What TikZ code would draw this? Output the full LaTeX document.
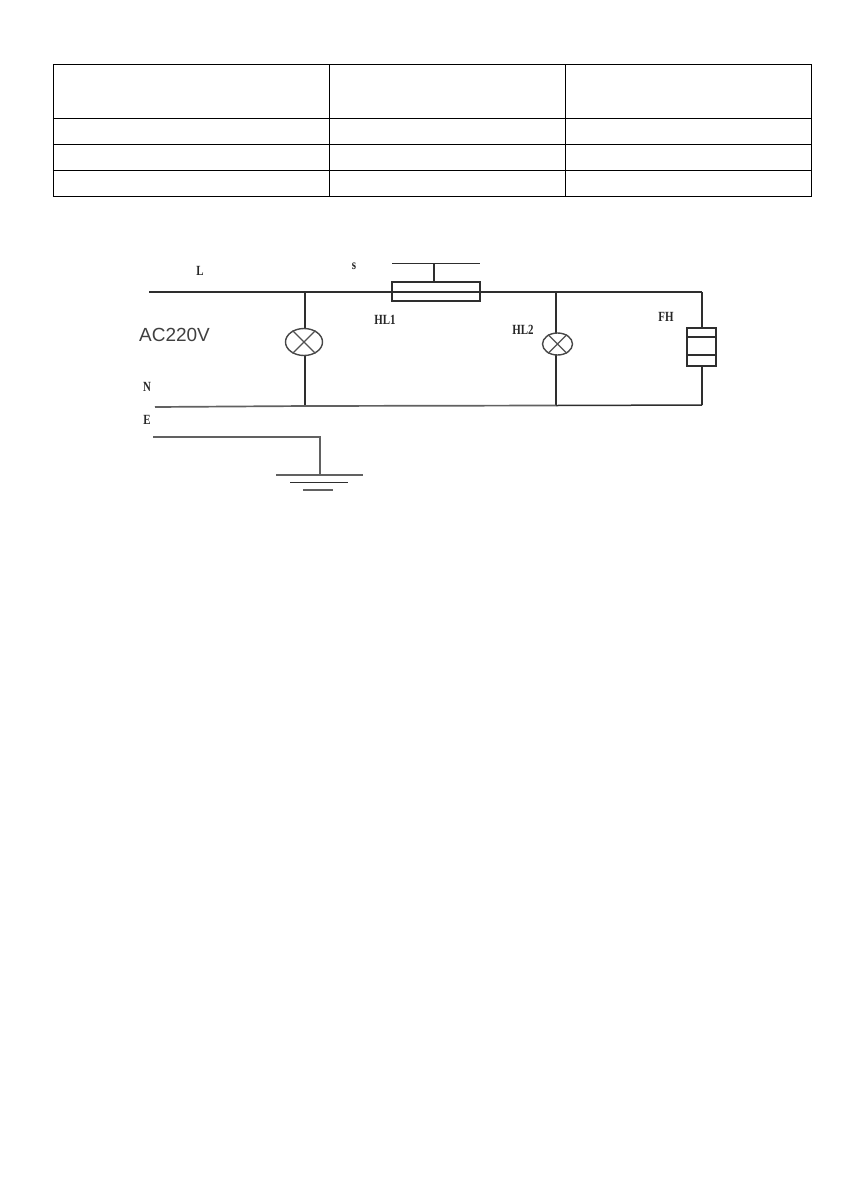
\documentclass[tikz,border=0pt]{standalone}
\usepackage{fontspec}
\setmainfont{Liberation Serif}
\newfontfamily\acfont{Liberation Sans}
\newfontfamily\lblfont[FakeStretch=0.78]{Liberation Serif}
\usetikzlibrary{shapes.geometric}
\tikzset{
  grid line/.style={line width=1.35pt,draw=black},
  wire/.style={line width=1.5pt,draw=black!82},
  gwire/.style={line width=1.7pt,draw=black!62},
  lamp/.style={ellipse,draw=black!72,line width=1.4pt,fill=white,inner sep=0pt},
  box/.style={rectangle,draw=black!82,line width=1.5pt,fill=white,inner sep=0pt},
  lbl/.style={font=\lblfont\bfseries\fontsize{14}{14}\selectfont,inner sep=0pt,text=black!85},
}
\begin{document}
\begin{tikzpicture}[x=1pt,y=-1pt]
\useasboundingbox (0,0) rectangle (843,1192);
% table
\foreach \yy in {64.5,118.5,144.5,170.5,196.5}{\draw[grid line] (52.8,\yy) -- (812.2,\yy);}
\foreach \xx in {53.5,329.5,565.5,811.5}{\draw[grid line] (\xx,64) -- (\xx,197);}
% coordinates
\coordinate (Lstart) at (149,292);
\coordinate (J1) at (305,292);
\coordinate (J2) at (556,292);
\coordinate (Rtop) at (702,292);
\coordinate (Nstart) at (155,407);
\coordinate (N1) at (305,406);
\coordinate (N2) at (556,405.5);
\coordinate (Rbot) at (702,405);
\coordinate (Estart) at (153,437);
\coordinate (Ecorner) at (320,437);
\coordinate (G) at (320,475);
\coordinate (SwL) at (392,263.5);
\coordinate (SwR) at (480,263.5);
\coordinate (SwM) at (434,263.5);
\coordinate (G1a) at (276,475); \coordinate (G1b) at (363,475);
\coordinate (G2a) at (290,482.5); \coordinate (G2b) at (348,482.5);
\coordinate (G3a) at (303,490); \coordinate (G3b) at (333,490);
% wires
\draw[wire] (Lstart) -- (Rtop);
\draw[wire] (Rtop) -- (Rbot);
\draw[wire] (J1) -- (N1);
\draw[wire] (J2) -- (N2);
\draw[wire] (N2) -- (Rbot);
\draw[gwire] (Nstart) -- (N1) -- (N2);
\draw[gwire] (Estart) -- (Ecorner) -- (G);
\draw[gwire] (G1a) -- (G1b);
\draw[wire] (G2a) -- (G2b);
\draw[gwire] (G3a) -- (G3b);
% switch / HL1 tube
\node[rectangle,draw=black!82,line width=1.5pt,minimum width=88pt,minimum height=19pt,inner sep=0pt] (tube) at (436,291.5) {};
\draw[wire] (SwL) -- (SwR);
\draw[wire] (SwM) -- (SwM |- tube.north);
% lamps
\node[lamp,minimum width=37pt,minimum height=27pt] (lamp1) at (304,342) {};
\draw[black!68,line width=1.2pt] (lamp1.45) -- (lamp1.225) (lamp1.135) -- (lamp1.315);
\node[lamp,minimum width=30pt,minimum height=22pt] (lamp2) at (557.5,344) {};
\draw[black!68,line width=1.2pt] (lamp2.45) -- (lamp2.225) (lamp2.135) -- (lamp2.315);
% FH
\node[box,minimum width=29pt,minimum height=38pt] (fh) at (701.5,347) {};
\draw[wire] (fh.west |- 0,337) -- (fh.east |- 0,337);
\draw[wire] (fh.west |- 0,355) -- (fh.east |- 0,355);
% labels
\node[lbl] (tL) at (200,271) {L};
\node[lbl] (tS) at (354,266) {s};
\node[lbl] (tHL1) at (385,320) {HL1};
\node[lbl] (tHL2) at (523,330) {HL2};
\node[lbl] (tFH) at (666,317) {FH};
\node[lbl] (tN) at (147,387) {N};
\node[lbl] (tE) at (147,420) {E};
\node[inner sep=0pt,text=black!75,font=\acfont\fontsize{19}{19}\selectfont] (tAC) at (174.5,335) {AC220V};
\end{tikzpicture}
\end{document}
